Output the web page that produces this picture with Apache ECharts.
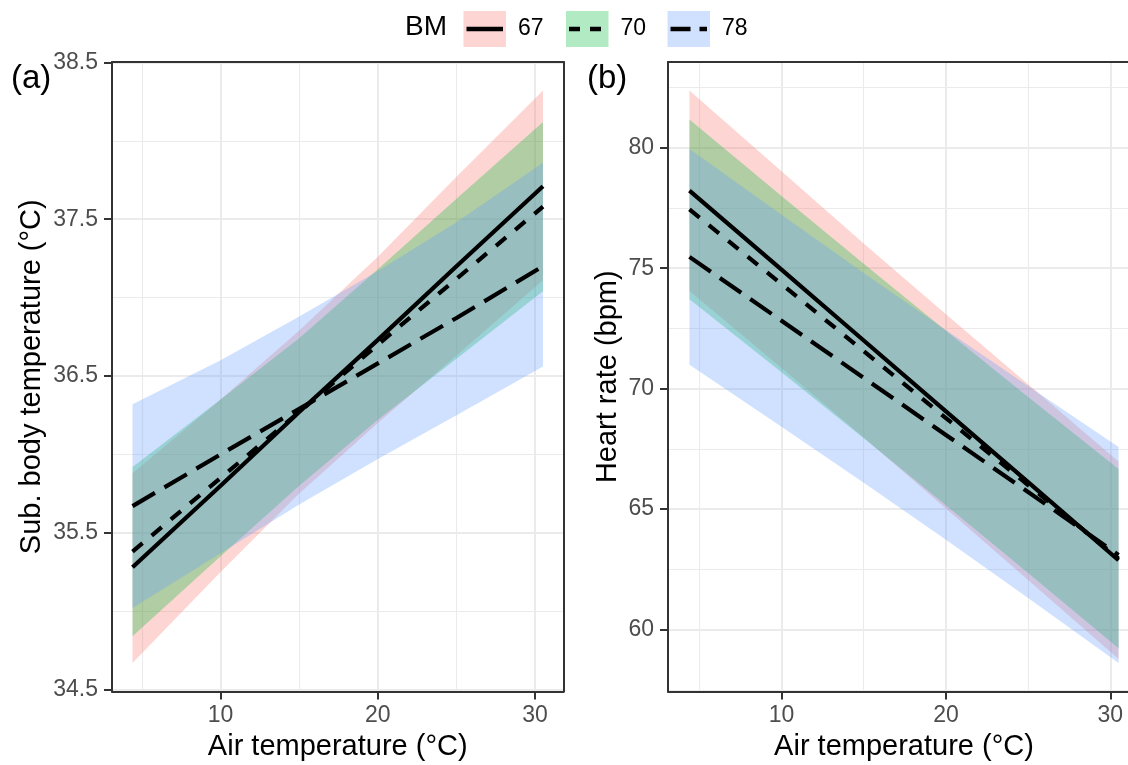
<!DOCTYPE html>
<html>
<head>
<meta charset="utf-8">
<script src="https://cdn.jsdelivr.net/npm/echarts@6/dist/echarts.min.js"></script>
<style>
  html, body { margin: 0; padding: 0; background: #fff; }
  #chart { width: 1128px; height: 765px; }
</style>
</head>
<body>
<div id="chart"></div>
<script>
// Body-mass groups and air temperatures at which predictions are drawn
const groups = ['67', '70', '78'];
const airTemp = [4.4, 10, 15, 20, 25, 30.5];

// (a) Subcutaneous body temperature (°C): fit and confidence band per group
const tbFit67 = [35.28, 35.80, 36.27, 36.73, 37.20, 37.71];
const tbLo67  = [34.67, 35.25, 35.75, 36.20, 36.63, 37.11];
const tbHi67  = [35.88, 36.35, 36.79, 37.26, 37.77, 38.32];
const tbFit70 = [35.38, 35.85, 36.27, 36.70, 37.12, 37.58];
const tbLo70  = [34.84, 35.35, 35.80, 36.22, 36.61, 37.04];
const tbHi70  = [35.92, 36.35, 36.74, 37.18, 37.63, 38.12];
const tbFit78 = [35.67, 36.00, 36.29, 36.58, 36.87, 37.20];
const tbLo78  = [35.02, 35.37, 35.68, 35.97, 36.25, 36.56];
const tbHi78  = [36.32, 36.60, 36.88, 37.17, 37.48, 37.86];

// (b) Heart rate (bpm): fit and confidence band per group
const hrFit67 = [78.22, 74.94, 72.00, 69.06, 66.12, 62.88];
const hrLo67  = [74.05, 70.86, 67.97, 65.03, 62.06, 58.78];
const hrHi67  = [82.37, 79.02, 76.03, 73.09, 70.18, 66.98];
const hrFit70 = [77.44, 74.34, 71.56, 68.78, 66.00, 62.95];
const hrLo70  = [73.71, 70.68, 67.94, 65.16, 62.35, 59.23];
const hrHi70  = [81.17, 78.00, 75.18, 72.40, 69.65, 66.67];
const hrFit78 = [75.47, 72.82, 70.45, 68.08, 65.71, 63.10];
const hrLo78  = [70.99, 68.42, 66.10, 63.73, 61.31, 58.62];
const hrHi78  = [79.95, 77.22, 74.80, 72.43, 70.11, 67.58];

// Tick values (major carry labels, minor only grid lines)
const xTicks = [10, 20, 30];
const xMinor = [5, 15, 25];
const tbTicks = [34.5, 35.5, 36.5, 37.5, 38.5];
const tbMinor = [35, 36, 37, 38];
const hrTicks = [60, 65, 70, 75, 80];
const hrMinor = [57.5, 62.5, 67.5, 72.5, 77.5, 82.5];

const fills = ['#F8766D', '#00BA38', '#619CFF'];
const dashes = ['solid', [13, 12], [26, 11]];
const FONT = "'Liberation Sans', Arial, sans-serif";
const BORDER = { show: true, lineStyle: { color: '#333333', width: 2 } };

const panels = [
  { fit: [tbFit67, tbFit70, tbFit78], lo: [tbLo67, tbLo70, tbLo78], hi: [tbHi67, tbHi70, tbHi78],
    ticks: tbTicks, minor: tbMinor, title: 'Sub. body temperature (°C)', gap: 66 },
  { fit: [hrFit67, hrFit70, hrFit78], lo: [hrLo67, hrLo70, hrLo78], hi: [hrHi67, hrHi70, hrHi78],
    ticks: hrTicks, minor: hrMinor, title: 'Heart rate (bpm)', gap: 46 }
];

// 5% padding around the data range on each side
function padRange(lo, hi) {
  const r = hi - lo;
  return [lo - 0.05 * r, hi + 0.05 * r];
}
const xRange = padRange(Math.min(...airTemp), Math.max(...airTemp));

// right panel continues past the page edge
const grids = [
  { left: 112, top: 62, width: 451.5, height: 629.5, outerBoundsMode: 'none', containLabel: false },
  { left: 668, top: 62, width: 472, height: 629.5, outerBoundsMode: 'none', containLabel: false }
];

const xAxes = [], yAxes = [], series = [];

// Ribbon polygon: upper edge left→right, then lower edge right→left
function bandRenderer(color) {
  return function (params, api) {
    if (params.dataIndex !== 0) return null;
    const n = airTemp.length;
    const pts = [];
    for (let i = 0; i < n; i++) pts.push(api.coord([api.value(0, i), api.value(2, i)]));
    for (let i = n - 1; i >= 0; i--) pts.push(api.coord([api.value(0, i), api.value(1, i)]));
    return { type: 'polygon', shape: { points: pts }, style: { fill: color, opacity: 0.3 } };
  };
}

panels.forEach((p, gi) => {
  const yr = padRange(Math.min(...p.lo.flat()), Math.max(...p.hi.flat()));
  // major x axis (bottom border, ticks, labels)
  xAxes.push({
    type: 'value', gridIndex: gi, min: xRange[0], max: xRange[1], position: 'bottom',
    axisLine: BORDER,
    axisTick: { show: true, customValues: xTicks, length: 8, lineStyle: { color: '#333333', width: 2 } },
    axisLabel: { customValues: xTicks, color: '#4D4D4D', fontSize: 23, fontFamily: FONT, margin: 13 },
    splitLine: { show: true, lineStyle: { color: '#EBEBEB', width: 2 } },
    name: 'Air temperature (°C)', nameLocation: 'middle', nameGap: 40,
    nameTextStyle: { color: '#000', fontSize: 29, fontFamily: FONT }
  });
  // minor x grid lines, plus the top border
  xAxes.push({
    type: 'value', gridIndex: gi, min: xRange[0], max: xRange[1], position: 'top',
    axisLine: BORDER, axisLabel: { show: false },
    axisTick: { show: false, customValues: xMinor },
    splitLine: { show: true, lineStyle: { color: '#EBEBEB', width: 1.1 } }
  });
  yAxes.push({
    type: 'value', gridIndex: gi, min: yr[0], max: yr[1], position: 'left',
    axisLine: BORDER,
    axisTick: { show: true, customValues: p.ticks, length: 8, lineStyle: { color: '#333333', width: 2 } },
    axisLabel: { customValues: p.ticks, color: '#4D4D4D', fontSize: 23, fontFamily: FONT, margin: 14 },
    splitLine: { show: true, lineStyle: { color: '#EBEBEB', width: 2 } },
    name: p.title, nameLocation: 'middle', nameGap: p.gap, nameRotate: 90,
    nameTextStyle: { color: '#000', fontSize: 29, fontFamily: FONT }
  });
  // minor y grid lines, plus the right border
  yAxes.push({
    type: 'value', gridIndex: gi, min: yr[0], max: yr[1], position: 'right',
    axisLine: BORDER, axisLabel: { show: false },
    axisTick: { show: false, customValues: p.minor },
    splitLine: { show: true, lineStyle: { color: '#EBEBEB', width: 1.1 } }
  });

  const ax = gi * 2;
  // confidence bands, drawn in group order so overlaps blend
  groups.forEach((g, k) => {
    series.push({
      type: 'custom', xAxisIndex: ax, yAxisIndex: ax, silent: true, z: 2,
      encode: { x: 0, y: [1, 2] },
      renderItem: bandRenderer(fills[k]),
      data: airTemp.map((x, i) => [x, p.lo[k][i], p.hi[k][i]])
    });
  });
  // fitted lines
  groups.forEach((g, k) => {
    series.push({
      type: 'line', xAxisIndex: ax, yAxisIndex: ax, silent: true,
      symbol: 'none', z: 5,
      lineStyle: { color: '#000', width: 4.2, type: dashes[k], cap: 'butt' },
      data: airTemp.map((x, i) => [x, p.fit[k][i]])
    });
  });
});

// Legend and panel tags
const legendKeys = [463.5, 566, 667.5];
const keyDashes = [null, [11, 10], [20, 9]];
const graphic = [
  { type: 'text', left: 405, top: 13, style: { text: 'BM', fontSize: 28, fontFamily: FONT, fill: '#000' } },
  { type: 'text', left: 11, top: 62, style: { text: '(a)', fontSize: 33, fontFamily: FONT, fill: '#000' } },
  { type: 'text', left: 587, top: 62, style: { text: '(b)', fontSize: 33, fontFamily: FONT, fill: '#000' } }
];
groups.forEach((g, k) => {
  const x0 = legendKeys[k];
  graphic.push({ type: 'rect', shape: { x: x0, y: 11, width: 42.5, height: 36 }, style: { fill: fills[k], opacity: 0.3 } });
  graphic.push({ type: 'line', shape: { x1: x0 + 3, y1: 29, x2: x0 + 39.5, y2: 29 },
    style: { stroke: '#000', lineWidth: 4.5, lineDash: keyDashes[k] } });
  graphic.push({ type: 'text', left: x0 + 54.5, top: 17, style: { text: g, fontSize: 23, fontFamily: FONT, fill: '#000' } });
});

const chart = echarts.init(document.getElementById('chart'), null, { renderer: 'canvas' });
chart.setOption({
  animation: false,
  backgroundColor: '#fff',
  grid: grids,
  xAxis: xAxes,
  yAxis: yAxes,
  series,
  graphic
});
</script>
</body>
</html>
